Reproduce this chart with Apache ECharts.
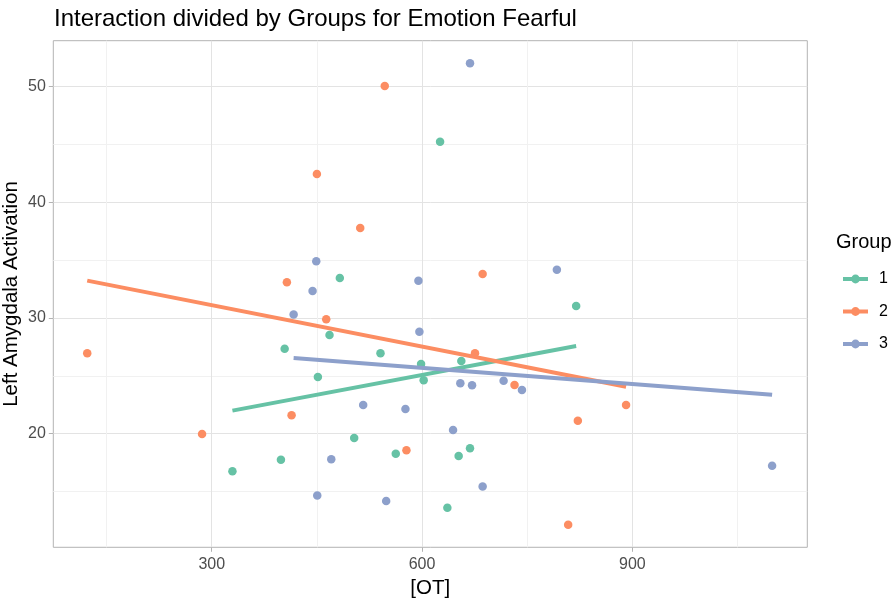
<!DOCTYPE html>
<html>
<head>
<meta charset="utf-8">
<script src="https://cdn.jsdelivr.net/npm/echarts@6/dist/echarts.min.js"></script>
<style>html,body{margin:0;padding:0;background:#fff}#c{width:895px;height:601px}</style>
</head>
<body>
<div id="c"></div>
<script>
// ---- data ----
const groups = ['1', '2', '3'];
const colors = ['#66C2A5', '#FC8D62', '#8DA0CB'];

const g1X = [329.5, 398.7, 404.0, 451.4, 468.0, 482.7, 503.2, 540.7, 562.5, 598.6, 602.3, 625.7, 636.1, 652.2, 656.0, 668.4, 819.8];
const g1Y = [16.75, 17.74, 27.35, 24.90, 28.53, 33.46, 19.63, 26.95, 18.27, 26.03, 24.62, 45.24, 13.60, 18.07, 26.29, 18.74, 31.04];

const g2X = [122.4, 286.2, 407.2, 413.9, 450.0, 463.3, 511.8, 546.8, 577.7, 675.5, 686.4, 731.9, 808.4, 822.2, 891.0];
const g2Y = [26.95, 19.97, 33.09, 21.59, 42.45, 29.89, 37.78, 50.06, 18.56, 26.95, 33.81, 24.21, 12.11, 21.12, 22.48];

const g3X = [416.8, 443.8, 449.1, 450.5, 470.5, 516.0, 548.8, 576.3, 594.8, 596.2, 644.2, 654.6, 668.4, 671.3, 686.4, 716.3, 742.5, 792.3, 1099.3];
const g3Y = [30.31, 32.34, 34.90, 14.64, 17.79, 22.48, 14.18, 22.14, 33.23, 28.82, 20.32, 24.36, 52.02, 24.18, 15.42, 24.58, 23.78, 34.18, 17.23];

// fitted-line end points
const fit1X = [329.5, 819.8], fit1Y = [21.99, 27.58];
const fit2X = [122.4, 891.0], fit2Y = [33.23, 24.06];
const fit3X = [416.8, 1099.3], fit3Y = [26.54, 23.37];

const xMajorTicks = [300, 600, 900];
const xMinorTicks = [150, 450, 750, 1050];
const yMajorTicks = [20, 30, 40, 50];
const yMinorTicks = [15, 25, 35, 45];

const titleText = 'Interaction divided by Groups for Emotion Fearful';
const xTitle = '[OT]';
const yTitle = 'Left Amygdala Activation';
const legendTitle = 'Group';

// ---- build chart ----
const FONT = "'Liberation Sans', Arial, Helvetica, sans-serif";
const pts = (xs, ys) => xs.map((x, i) => [x, ys[i]]);
const scatterData = [pts(g1X, g1Y), pts(g2X, g2Y), pts(g3X, g3Y)];
const fitData = [pts(fit1X, fit1Y), pts(fit2X, fit2Y), pts(fit3X, fit3Y)];

const X_MIN = 74, X_MAX = 1149.5, Y_MIN = 10.17, Y_MAX = 53.98;

const lineSeries = groups.map((g, i) => ({
  name: g, type: 'line', xAxisIndex: 0, yAxisIndex: 0,
  data: fitData[i], symbol: 'circle', symbolSize: 8, showSymbol: false,
  lineStyle: { color: colors[i], width: 4 }, itemStyle: { color: colors[i] },
  z: 4, silent: true
}));
const scatterSeries = groups.map((g, i) => ({
  name: g, type: 'scatter', xAxisIndex: 0, yAxisIndex: 0,
  data: scatterData[i], symbol: 'circle', symbolSize: 8.5,
  itemStyle: { color: colors[i], opacity: 1 }, z: 3
}));

const chart = echarts.init(document.getElementById('c'), null, { renderer: 'canvas' });
chart.setOption({
  animation: false,
  backgroundColor: '#fff',
  title: [
    { text: titleText, left: 54, top: 7, padding: 0,
      textStyle: { fontFamily: FONT, fontSize: 24, fontWeight: 'normal', color: '#000' } },
    { text: legendTitle, left: 836, top: 232, padding: 0,
      textStyle: { fontFamily: FONT, fontSize: 20, fontWeight: 'normal', color: '#000' } }
  ],
  legend: {
    data: groups, orient: 'vertical', left: 841, top: 271, padding: 0,
    itemWidth: 25, itemHeight: 11, itemGap: 16.5,
    lineStyle: { width: 4 },
    textStyle: { fontFamily: FONT, fontSize: 16, color: '#000', lineHeight: 11, padding: [0, 0, 0, 6] },
    selectedMode: false
  },
  grid: { left: 53.3, top: 40.7, right: 87.7, bottom: 53.7, show: true,
          containLabel: false, outerBoundsMode: 'none',
          borderColor: '#b3b3b3', borderWidth: 1, backgroundColor: 'transparent' },
  xAxis: [
    { type: 'value', min: X_MIN, max: X_MAX, position: 'bottom',
      name: xTitle, nameLocation: 'middle', nameGap: 31, nameMoveOverlap: false,
      nameTextStyle: { fontFamily: FONT, fontSize: 20.5, color: '#000' },
      axisLine: { show: false },
      axisTick: { show: true, length: 4.5, customValues: xMajorTicks, lineStyle: { color: '#b3b3b3', width: 1 } },
      axisLabel: { customValues: xMajorTicks, margin: 9.5, fontFamily: FONT, fontSize: 16, color: '#4d4d4d' },
      splitLine: { show: true, lineStyle: { color: '#e3e3e3', width: 1 } } },
    { type: 'value', min: X_MIN, max: X_MAX, position: 'top',
      axisLine: { show: false },
      axisTick: { show: false, customValues: xMinorTicks },
      axisLabel: { show: false, customValues: xMinorTicks },
      splitLine: { show: true, lineStyle: { color: '#f1f1f1', width: 1 } } }
  ],
  yAxis: [
    { type: 'value', min: Y_MIN, max: Y_MAX, position: 'left',
      name: yTitle, nameLocation: 'middle', nameGap: 31, nameMoveOverlap: false,
      nameTextStyle: { fontFamily: FONT, fontSize: 20.5, color: '#000' },
      axisLine: { show: false },
      axisTick: { show: true, length: 4.5, customValues: yMajorTicks, lineStyle: { color: '#b3b3b3', width: 1 } },
      axisLabel: { customValues: yMajorTicks, margin: 7.5, fontFamily: FONT, fontSize: 16, color: '#4d4d4d' },
      splitLine: { show: true, lineStyle: { color: '#e3e3e3', width: 1 } } },
    { type: 'value', min: Y_MIN, max: Y_MAX, position: 'right',
      axisLine: { show: false },
      axisTick: { show: false, customValues: yMinorTicks },
      axisLabel: { show: false, customValues: yMinorTicks },
      splitLine: { show: true, lineStyle: { color: '#f1f1f1', width: 1 } } }
  ],
  series: lineSeries.concat(scatterSeries)
});
</script>
</body>
</html>
